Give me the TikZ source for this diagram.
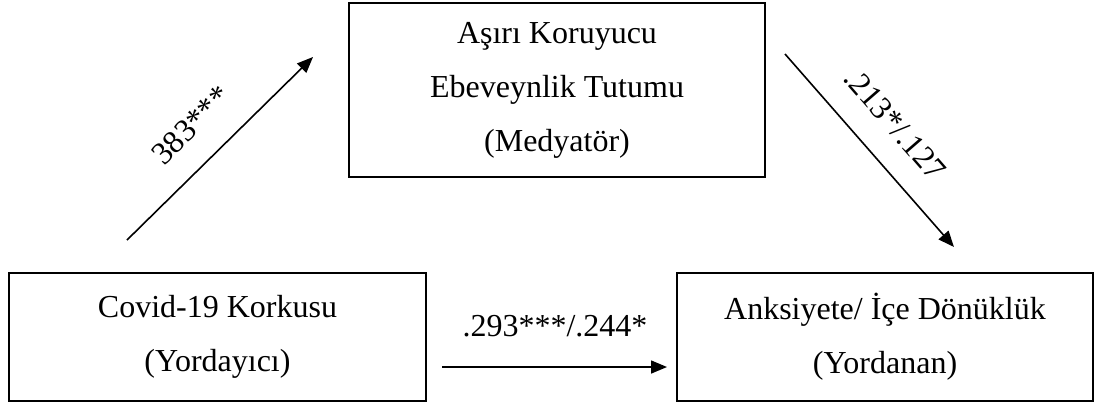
\documentclass[tikz,border=0pt]{standalone}
\usepackage{fontspec}
\setmainfont{Liberation Serif}
\usetikzlibrary{arrows.meta}
\begin{document}
\begin{tikzpicture}[x=0.5pt,y=-0.5pt,
  box/.style={draw,line width=1pt,inner sep=0pt,align=center,
    font=\fontsize{16}{27}\selectfont},
  arr/.style={line width=0.8pt,-{Triangle[length=8pt,width=6.5pt]}},
  lbl/.style={inner sep=1pt,font=\fontsize{16}{19}\selectfont}]
\useasboundingbox (0,0) rectangle (1096,404);
\node[box,minimum width=208pt,minimum height=87pt] (med) at (557,90)
  {Aşırı Koruyucu\\Ebeveynlik Tutumu\\(Medyatör)};
\node[box,minimum width=208.5pt,minimum height=64pt] (pred) at (217.5,337)
  {Covid-19 Korkusu\\(Yordayıcı)};
\node[box,minimum width=208pt,minimum height=64pt] (out) at (885,337)
  {Anksiyete/ İçe Dönüklük\\(Yordanan)};
\coordinate (a1) at (127,240);
\coordinate (a2) at (313,57);
\coordinate (b1) at (785,54);
\coordinate (b2) at (954,247);
\coordinate (c1) at (442,367);
\coordinate (c2) at (667,367);
\draw[arr] (a1) -- (a2);
\draw[arr] (b1) -- (b2);
\draw[arr] (c1) -- (c2);
\node[lbl,rotate=45] (la) at (191,125) {383***};
\node[lbl,rotate=-49] (lb) at (895,124) {.213*/.127};
\node[lbl] (lc) at (555,326) {.293***/.244*};
\end{tikzpicture}
\end{document}
